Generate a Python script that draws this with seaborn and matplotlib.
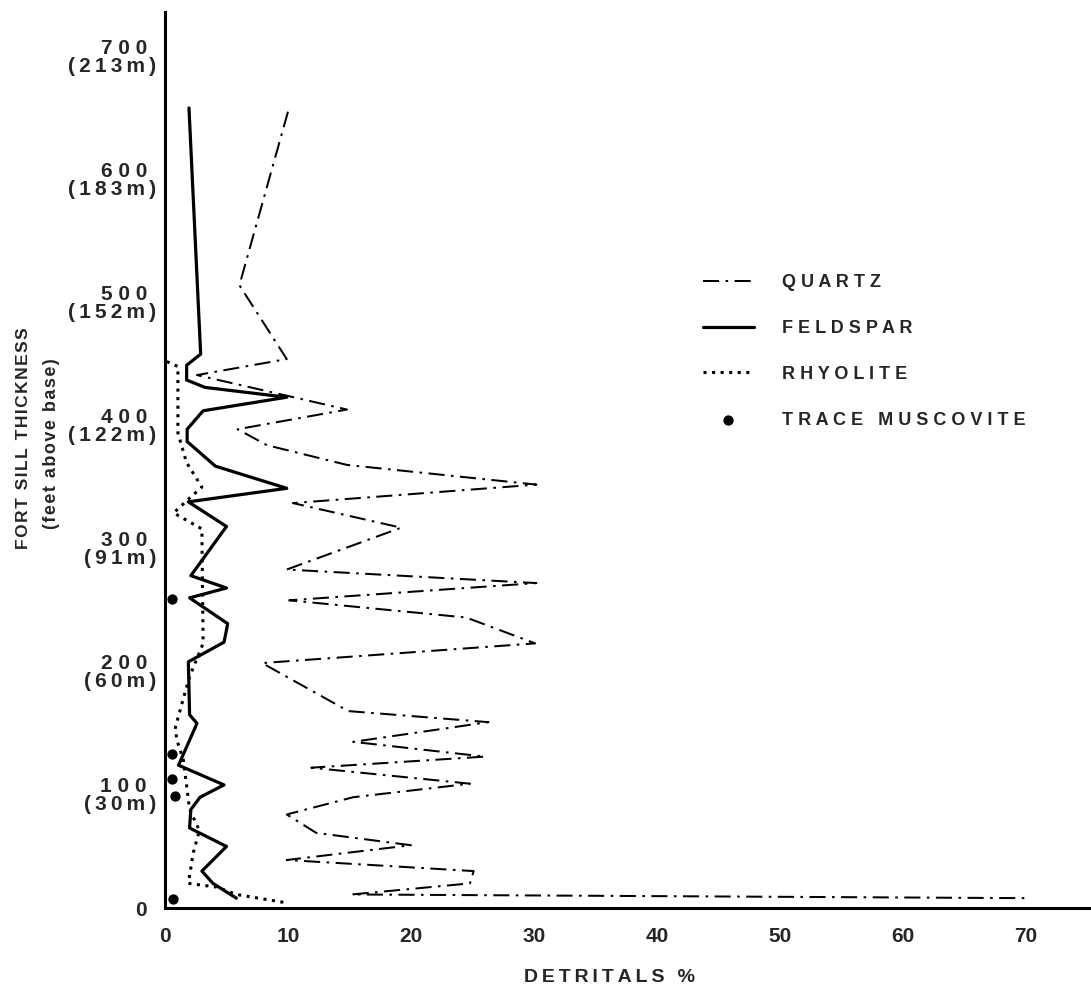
import matplotlib

matplotlib.use("Agg")
import matplotlib.pyplot as plt
import matplotlib.transforms as mtransforms
import seaborn as sns

QUARTZ_FT = [647, 506, 446, 433, 405, 389, 376, 360, 344, 329, 309, 275, 264, 250,
             236, 215, 199, 160, 151, 135, 123, 114, 101, 90, 76, 61, 51, 39, 30,
             20, 11, 8]
QUARTZ_PCT = [10.0, 6.05, 9.9, 2.6, 14.8, 5.9, 8.3, 14.8, 30.2, 10.4, 19.2, 9.9, 30.2,
              10.1, 24.5, 30.1, 7.9, 14.9, 26.3, 15.3, 26.0, 11.9, 24.8, 15.3, 9.9,
              12.3, 20.0, 9.9, 25.1, 24.8, 15.2, 70.0]

FELDSPAR_FT = [650, 450, 441, 429, 423, 415, 404, 389, 379, 359, 341, 330, 310, 270,
               260, 252, 231, 216, 200, 157, 150, 116, 100, 90, 80, 65, 50, 30, 20, 8]
FELDSPAR_PCT = [1.95, 2.9, 1.76, 1.76, 3.25, 9.9, 3.1, 1.8, 1.8, 4.1, 9.9, 1.9, 5.0,
                2.1, 5.0, 2.0, 5.1, 4.8, 1.9, 2.0, 2.6, 1.1, 4.8, 2.85, 2.1, 2.0, 5.0,
                3.0, 3.9, 5.8]

RHYOLITE_FT = [444, 440, 386, 362, 342, 333, 321, 308, 215, 188, 174, 147, 137, 120,
               80, 63, 45, 20, 17, 11, 4]
RHYOLITE_PCT = [0.15, 1.05, 1.05, 1.75, 3.0, 2.0, 0.7, 3.0, 3.1, 2.0, 1.6, 0.85, 0.95,
                1.5, 2.0, 2.8, 2.3, 1.9, 4.2, 5.8, 10.0]

MUSCOVITE_FT = [251, 125, 105, 91, 7]
MUSCOVITE_PCT = [0.6, 0.6, 0.6, 0.85, 0.65]

HEIGHT_TICKS = [0, 100, 200, 300, 400, 500, 600, 700]
FEET_LABELS = ["0", "100", "200", "300", "400", "500", "600", "700"]
METRE_LABELS = ["", "(30m)", "(60m)", "(91m)", "(122m)", "(152m)", "(183m)", "(213m)"]
PCT_TICKS = [0, 10, 20, 30, 40, 50, 60, 70]

FONT = ["Liberation Sans", "DejaVu Sans"]


def spaced(text, gap=" "):
    return gap.join(text)


sns.set_style("white")
plt.rcParams["font.family"] = FONT
plt.rcParams["font.weight"] = "bold"

fig = plt.figure(figsize=(10.91, 10.05), dpi=100)
ax = fig.add_axes([165 / 1091, 97 / 1005, 926 / 1091, 896 / 1005])

sns.lineplot(x=QUARTZ_PCT, y=QUARTZ_FT, sort=False, estimator=None, ax=ax,
             color="black", lw=1.45, linestyle=(0, (8, 3.2, 1.3, 3.2)),
             label=spaced("QUARTZ"))
sns.lineplot(x=FELDSPAR_PCT, y=FELDSPAR_FT, sort=False, estimator=None, ax=ax,
             color="black", lw=2.3, label=spaced("FELDSPAR"))
sns.lineplot(x=RHYOLITE_PCT, y=RHYOLITE_FT, sort=False, estimator=None, ax=ax,
             color="black", lw=2.2, linestyle=(0, (1, 1.8)),
             label=spaced("RHYOLITE"))
sns.scatterplot(x=MUSCOVITE_PCT, y=MUSCOVITE_FT, ax=ax, color="black", s=55,
                linewidth=0, clip_on=False, zorder=5,
                label=spaced("TRACE MUSCOVITE"))

ax.set_xlim(0, 75.3)
ax.set_ylim(0, 728)
ax.set_xticks(PCT_TICKS, labels=[str(t) for t in PCT_TICKS])
ax.set_yticks(HEIGHT_TICKS, labels=[spaced(s) for s in FEET_LABELS])
ax.tick_params(axis="x", length=9, width=2, pad=5, labelsize=15, color="black")
ax.tick_params(axis="y", length=11.5, width=2, pad=1.5, labelsize=15, color="black")
for lab in ax.get_xticklabels() + ax.get_yticklabels():
    lab.set_fontweight("bold")

# metre equivalents sit under the feet values
trans = mtransforms.blended_transform_factory(ax.transAxes, ax.transData) + \
    mtransforms.ScaledTranslation(-0.09, -0.20, fig.dpi_scale_trans)
for ft, m in zip(HEIGHT_TICKS, METRE_LABELS):
    if m:
        ax.text(0, ft, spaced(m, "\u2009"), transform=trans, ha="right", va="center",
                fontsize=15, fontweight="bold")

for side in ["top", "right"]:
    ax.spines[side].set_visible(False)
for side in ["left", "bottom"]:
    ax.spines[side].set_linewidth(2.2)
    ax.spines[side].set_color("black")

ax.set_xlabel("")
ax.set_ylabel("")
fig.text(24 / 1091, 1 - 438 / 1005, spaced("FORT SILL THICKNESS", "\u200a"),
         rotation=90, ha="center", va="center", fontsize=12.5, fontweight="bold")
fig.text(52 / 1091, 1 - 444 / 1005, spaced("(feet above base)", "\u200a"),
         rotation=90, ha="center", va="center", fontsize=13, fontweight="bold")
fig.text(609 / 1091, 1 - 977 / 1005, spaced("DETRITALS %", "\u2009"),
         ha="center", va="center", fontsize=14, fontweight="bold")

ax.legend(loc="upper left", bbox_to_anchor=(703 / 1091, 1 - 274 / 1005),
          bbox_transform=fig.transFigure, frameon=False, borderaxespad=0,
          borderpad=0, handlelength=2.8, handletextpad=1.6, labelspacing=1.6,
          prop={"size": 13, "weight": "bold"})

fig.savefig("out.png", dpi=100)
